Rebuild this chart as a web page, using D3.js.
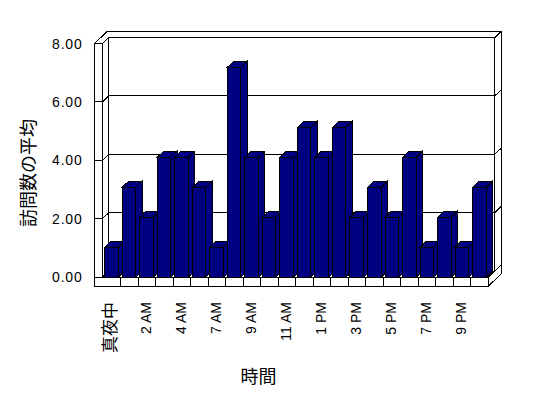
<!DOCTYPE html>
<html>
<head>
<meta charset="utf-8">
<script src="https://cdn.jsdelivr.net/npm/d3@7"></script>
<style>
  body { margin: 0; background: #fff; }
  text { font-family: "Liberation Sans", Arial, "Noto Sans CJK JP", sans-serif; fill: #000; }
</style>
</head>
<body>
<div id="chart"></div>
<script>
// data
const hours = ['真夜中', '1 AM', '2 AM', '3 AM', '4 AM', '5 AM', '7 AM', '8 AM', '9 AM', '10 AM', '11 AM',
  '12 PM', '1 PM', '2 PM', '3 PM', '4 PM', '5 PM', '6 PM', '7 PM', '8 PM', '9 PM', '10 PM'];
const avgVisits = [1, 3, 2, 4, 4, 3, 1, 7, 4, 2, 4, 5, 4, 5, 2, 3, 2, 4, 1, 2, 1, 3];
const yTicks = [0, 2, 4, 6, 8];
const yTitle = '訪問数の平均';
const xTitle = '時間';

const width = 548, height = 398;
const navy = '#000080';

// box geometry (front plane + depth offset)
const box = { outerLeft: 94.5, left: 102.5, right: 488.5, floor: 277, floorBottom: 286, top: 43.5 };
const depth = { x: 6.3, y: -6 };

const svg = d3.select('#chart').append('svg')
  .attr('width', width)
  .attr('height', height);

const xSlot = d3.scaleBand()
  .domain(hours)
  .range([box.left + 0.7, box.right]);

const yAxisScale = d3.scaleLinear()
  .domain([0, 8])
  .range([box.floor, box.top]);

// bars sit slightly in front, so they read a bit taller
const yBar = d3.scaleLinear()
  .domain([0, 8])
  .range([box.floor + 0.3, box.floor + 0.3 - 240]);

const line = d3.line();
const g = svg.append('g')
  .attr('fill', 'none')
  .attr('stroke', '#000')
  .attr('stroke-width', 1)
  .attr('shape-rendering', 'crispEdges');

const backLeft = box.left + depth.x;
const backRight = box.right + depth.x;
const backTop = box.top + depth.y;
const backFloor = box.floor + depth.y;

// outer outline of walls and floor
g.append('path')
  .attr('fill', '#fff')
  .attr('d', line([
    [box.outerLeft, box.floorBottom],
    [box.outerLeft, box.top],
    [box.outerLeft + 2 * depth.x, box.top + 2 * depth.y],
    [box.right + 2 * depth.x, box.top + 2 * depth.y],
    [box.right + 2 * depth.x, box.floorBottom + 2 * depth.y],
    [box.right, box.floorBottom]
  ]) + 'Z');

// inner edges
const edges = [
  [[box.left, box.top], [box.left, box.floor]],
  [[box.left, box.floor], [box.right, box.floor]],
  [[box.right, box.floor], [box.right, box.floorBottom]],
  [[box.left, box.top], [backLeft, backTop]],
  [[backLeft, backTop], [backRight, backTop]],
  [[backLeft, backTop], [backLeft, backFloor]],
  [[backRight, backTop], [backRight, backFloor]],
  [[backLeft, backFloor], [backRight, backFloor]],
  [[box.left, box.floor], [backLeft, backFloor]],
  [[box.right, box.floor], [backRight, backFloor]]
];
g.selectAll('path.edge')
  .data(edges)
  .join('path')
  .attr('class', 'edge')
  .attr('d', d => line(d));

// gridlines: tick on wall front, across the wall, along back wall, onto right edge
g.selectAll('path.grid')
  .data(yTicks)
  .join('path')
  .attr('class', 'grid')
  .attr('d', v => {
    const y = yAxisScale(v);
    return line([
      [box.outerLeft, y],
      [box.left, y],
      [backLeft, y + depth.y],
      [backRight, y + depth.y],
      [backRight + depth.x, y + 2 * depth.y]
    ]);
  });

// category dividers on floor front
g.selectAll('path.div')
  .data(hours)
  .join('path')
  .attr('class', 'div')
  .attr('d', d => {
    const x = xSlot(d) + xSlot.bandwidth();
    return line([[x, box.floor], [x, box.floorBottom]]);
  });

// bars
const barOffset = 1.6, barWidth = 13.5;
const barDepth = { x: 6.5, y: -6.3 };
const bars = svg.append('g')
  .attr('fill', navy)
  .attr('stroke', '#000')
  .attr('shape-rendering', 'crispEdges');

hours.forEach((h, i) => {
  const x0 = xSlot(h) + barOffset;
  const x1 = x0 + barWidth;
  const yTop = yBar(avgVisits[i]);
  const yBase = yBar(0);
  // top face
  bars.append('path').attr('d', line([
    [x0, yTop], [x0 + barDepth.x, yTop + barDepth.y],
    [x1 + barDepth.x, yTop + barDepth.y], [x1, yTop]
  ]) + 'Z');
  // side face
  bars.append('path').attr('d', line([
    [x1, yTop], [x1 + barDepth.x, yTop + barDepth.y],
    [x1 + barDepth.x, yBase + barDepth.y], [x1, yBase]
  ]) + 'Z');
  // front face
  bars.append('rect')
    .attr('x', x0)
    .attr('y', yTop)
    .attr('width', barWidth)
    .attr('height', yBase - yTop);
});

// y tick labels
svg.append('g')
  .selectAll('text')
  .data(yTicks)
  .join('text')
  .attr('x', 82.5)
  .attr('y', d => yAxisScale(d))
  .attr('text-anchor', 'end')
  .attr('dominant-baseline', 'central')
  .style('font-size', '14px')
  .style('letter-spacing', '0.8px')
  .text(d3.format('.2f'));

// x tick labels, every other category
svg.append('g')
  .selectAll('text')
  .data(hours.filter((d, i) => i % 2 === 0))
  .join('text')
  .attr('transform', d => `translate(${xSlot(d) + barOffset + barWidth / 2 - 1},302) rotate(-90)`)
  .attr('text-anchor', 'end')
  .attr('dominant-baseline', 'central')
  .style('font-size', d => /[^\x00-\x7f]/.test(d) ? '17px' : '14px')
  .text(d => d);

// axis titles
svg.append('text')
  .attr('transform', 'translate(28.5,173) rotate(-90)')
  .attr('text-anchor', 'middle')
  .attr('dominant-baseline', 'central')
  .style('font-size', '18px')
  .text(yTitle);

svg.append('text')
  .attr('x', 258.5)
  .attr('y', 376.5)
  .attr('text-anchor', 'middle')
  .attr('dominant-baseline', 'central')
  .style('font-size', '18px')
  .text(xTitle);
</script>
</body>
</html>
